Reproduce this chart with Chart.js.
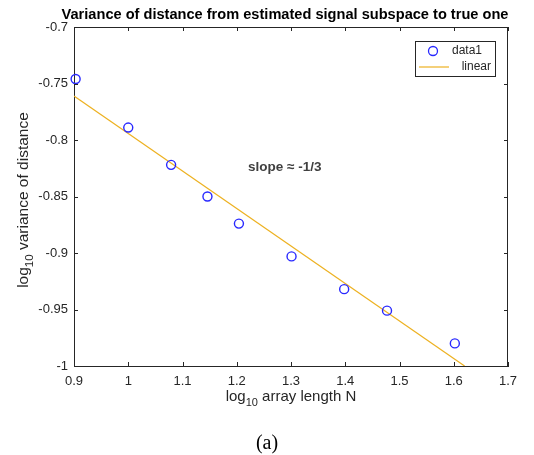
<!DOCTYPE html>
<html>
<head>
<meta charset="utf-8">
<script src="https://cdn.jsdelivr.net/npm/chart.js@4.4.0/dist/chart.umd.min.js"></script>
<style>
  body { margin: 0; background: #fff; }
  #wrap { width: 534px; height: 455px; }
</style>
</head>
<body>
<div id="wrap"><canvas id="variance-chart" width="534" height="455"></canvas></div>
<script>
// log10 of array length N = 8,10,12,14,16,20,25,30,40
let logN = [0.903, 1.0, 1.079, 1.146, 1.204, 1.301, 1.398, 1.477, 1.602]
let logVar = [-0.746, -0.789, -0.822, -0.850, -0.874, -0.903, -0.932, -0.951, -0.980]
// linear fit, slope about -1/3
let fitX = [0.9, 1.62]
let fitY = [-0.761, -1.0]

let xTicks = [0.9, 1.0, 1.1, 1.2, 1.3, 1.4, 1.5, 1.6, 1.7]
let yTicks = [-1.0, -0.95, -0.9, -0.85, -0.8, -0.75, -0.7]

const FONT = "'Liberation Sans', Arial, Helvetica, sans-serif"
const INK = '#262626'

function fmt(v) { return String(parseFloat(v.toFixed(2))) }

function drawSub(ctx, parts, x, y, size, align) {
    // parts: [text, isSubscript]
    let w = 0
    parts.forEach(p => {
        ctx.font = (p[1] ? size - 4 : size) + 'px ' + FONT
        w += ctx.measureText(p[0]).width
    })
    let cx = align == 'center' ? x - w / 2 : x
    parts.forEach(p => {
        ctx.font = (p[1] ? size - 4 : size) + 'px ' + FONT
        ctx.fillText(p[0], cx, p[1] ? y + 5 : y)
        cx += ctx.measureText(p[0]).width
    })
}

const matlabAxes = {
    id: 'matlabAxes',
    afterDraw(chart) {
        const ctx = chart.ctx
        const a = chart.chartArea
        const xs = chart.scales.x, ys = chart.scales.y
        ctx.save()
        ctx.strokeStyle = INK
        ctx.lineWidth = 1
        ctx.beginPath()
        ctx.moveTo(a.left, a.top + 0.5); ctx.lineTo(a.right, a.top + 0.5)
        ctx.moveTo(a.right - 0.5, a.top); ctx.lineTo(a.right - 0.5, a.bottom)
        xTicks.forEach(v => {
            let px = Math.round(xs.getPixelForValue(v)) + 0.5
            ctx.moveTo(px, a.bottom); ctx.lineTo(px, a.bottom - 4)
            ctx.moveTo(px, a.top); ctx.lineTo(px, a.top + 4)
        })
        yTicks.forEach(v => {
            let py = Math.round(ys.getPixelForValue(v)) + 0.5
            ctx.moveTo(a.left, py); ctx.lineTo(a.left + 4, py)
            ctx.moveTo(a.right, py); ctx.lineTo(a.right - 4, py)
        })
        ctx.stroke()

        // title
        ctx.fillStyle = '#000'
        ctx.textAlign = 'center'
        ctx.textBaseline = 'alphabetic'
        ctx.font = 'bold 14.6px ' + FONT
        ctx.fillText('Variance of distance from estimated signal subspace to true one', 285, 19)

        // axis labels with subscripts
        ctx.fillStyle = INK
        ctx.textAlign = 'left'
        drawSub(ctx, [['log', false], ['10', true], [' array length N', false]],
            (a.left + a.right) / 2, 401, 15, 'center')
        ctx.save()
        ctx.translate(28, 200)
        ctx.rotate(-Math.PI / 2)
        drawSub(ctx, [['log', false], ['10', true], [' variance of distance', false]],
            0, 0, 15.5, 'center')
        ctx.restore()

        // annotation
        ctx.font = 'bold 13.5px ' + FONT
        ctx.fillStyle = '#404040'
        ctx.textBaseline = 'middle'
        ctx.fillText('slope \u2248 -1/3', 248, 167)

        // legend box
        const ds = chart.data.datasets
        ctx.fillStyle = '#fff'
        ctx.fillRect(415, 41, 81, 36)
        ctx.strokeStyle = INK
        ctx.strokeRect(415.5, 41.5, 80, 35)
        ctx.strokeStyle = ds[0].borderColor
        ctx.lineWidth = 1.3
        ctx.beginPath()
        ctx.arc(433, 51, 4.5, 0, Math.PI * 2)
        ctx.stroke()
        ctx.strokeStyle = ds[1].borderColor
        ctx.lineWidth = 1.2
        ctx.beginPath()
        ctx.moveTo(419, 67); ctx.lineTo(449, 67)
        ctx.stroke()
        ctx.fillStyle = INK
        ctx.font = '12px ' + FONT
        ctx.textAlign = 'left'
        ctx.fillText(ds[0].label, 452, 51)
        ctx.textAlign = 'right'
        ctx.fillText(ds[1].label, 491, 67)

        // caption
        ctx.textAlign = 'center'
        ctx.font = "20px 'Liberation Serif', 'Times New Roman', serif"
        ctx.fillStyle = '#000'
        ctx.fillText('(a)', 267, 443.5)
        ctx.restore()
    }
}

const varianceData = {
    datasets: [
        {
            type: 'scatter',
            label: 'data1',
            data: logN.map((v, i) => ({x: v, y: logVar[i]})),
            borderColor: 'rgb(40, 40, 255)',
            backgroundColor: 'rgba(0, 0, 0, 0)',
            pointRadius: 4.5,
            pointBorderWidth: 1.4,
            clip: false,
            order: 0
        },
        {
            type: 'line',
            label: 'linear',
            data: fitX.map((v, i) => ({x: v, y: fitY[i]})),
            borderColor: 'rgb(237, 177, 32)',
            borderWidth: 1.2,
            pointRadius: 0,
            fill: false,
            order: 1
        }
    ]
}

const varianceConfig = {
    type: 'scatter',
    data: varianceData,
    options: {
        responsive: false,
        animation: false,
        layout: { padding: { left: 0, right: 26, top: 27, bottom: 0 } },
        scales: {
            x: {
                type: 'linear',
                min: 0.9, max: 1.7,
                afterBuildTicks: s => { s.ticks = xTicks.map(v => ({value: v})) },
                afterFit: s => { s.height = 89 },
                grid: { display: false, drawTicks: false },
                border: { display: true, color: INK, width: 1 },
                ticks: {
                    color: INK, padding: 8,
                    font: { family: FONT, size: 13 },
                    maxRotation: 0, autoSkip: false,
                    callback: v => fmt(v)
                }
            },
            y: {
                type: 'linear',
                min: -1, max: -0.7,
                afterBuildTicks: s => { s.ticks = yTicks.map(v => ({value: v})) },
                afterFit: s => { s.width = 74 },
                grid: { display: false, drawTicks: false },
                border: { display: true, color: INK, width: 1 },
                ticks: {
                    color: INK, padding: 6,
                    font: { family: FONT, size: 13 },
                    autoSkip: false,
                    callback: v => fmt(v)
                }
            }
        },
        plugins: {
            legend: { display: false },
            tooltip: { enabled: false },
            title: { display: false }
        }
    },
    plugins: [matlabAxes]
}

const varianceChart = new Chart(
    document.getElementById('variance-chart'),
    varianceConfig
)
</script>
</body>
</html>
